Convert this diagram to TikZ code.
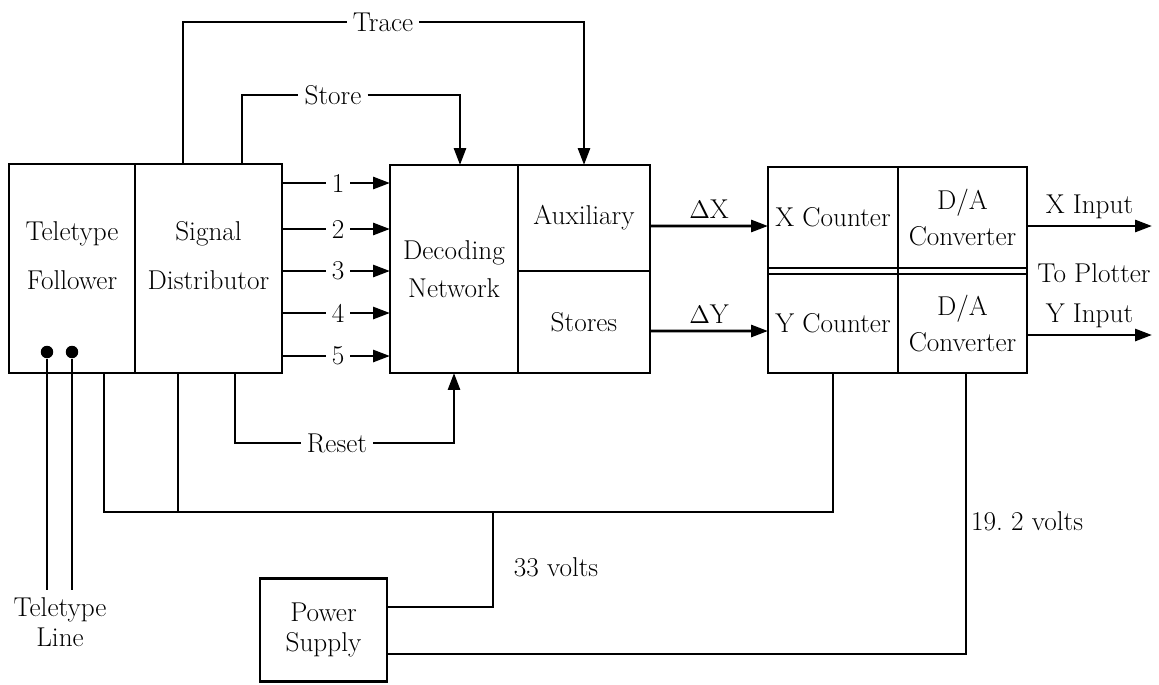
\documentclass[tikz,border=0pt]{standalone}
\usepackage{amsmath}
\usepackage{tikz}
\usetikzlibrary{arrows.meta, positioning}

\begin{document}
\begin{tikzpicture}[x=0.02cm, y=-0.02cm,
            every node/.style={font=\fontsize{15.5}{19}\selectfont},
            block/.style={draw, rectangle, line width=1.6pt, inner sep=0pt, outer sep=0pt, align=center},
            wire/.style={line width=1.6pt},
            arrow/.style={line width=1.6pt, -{Triangle[length=0.34cm, width=0.24cm]}},
            dot/.style={circle, fill=black, inner sep=0pt, minimum size=0.25cm}]
            \useasboundingbox (0,0) rectangle (1159,684);

            % Nodes
            \node (follower) [block, minimum width=2.52cm, minimum height=4.18cm] at (72,268.5) {};
            \node (dist) [block, minimum width=2.94cm, minimum height=4.18cm] at (208.5,268.5) {};
            \node (followertext) [align=center] at ([yshift=0.26cm]follower.center) {Teletype\\[9pt]Follower};
            \node (disttext) [align=center] at ([yshift=0.26cm]dist.center) {Signal\\[9pt]Distributor};
            \node (dec) [block, minimum width=2.56cm, minimum height=4.16cm] at (454,269) {Decoding\\[3pt]Network};
            \node (aux) [block, minimum width=2.64cm, minimum height=2.12cm] at (584,218) {Auxiliary};
            \node (stores) [block, minimum width=2.64cm, minimum height=2.04cm] at (584,322) {Stores};
            \node (xcnt) [block, minimum width=2.6cm, minimum height=2.02cm] at (833,217.5) {X Counter};
            \node (xda) [block, minimum width=2.58cm, minimum height=2.02cm] at (962.5,217.5) {D/A\\[1pt]Converter};
            \node (ycnt) [block, minimum width=2.6cm, minimum height=1.98cm] at (833,323.5) {Y Counter};
            \node (yda) [block, minimum width=2.58cm, minimum height=1.98cm] at (962.5,323.5) {D/A\\[1pt]Converter};
            \node (power) [block, minimum width=2.54cm, minimum height=2.06cm] at (323.5,630) {Power\\[-2pt]Supply};
            \node (plotter) at (1094,273) {To Plotter};
            \node (ttline) [align=center] at (60,622) {Teletype\\[-2pt]Line};
            \node (dota) [dot] at (47,352) {};
            \node (dotb) [dot] at (72,352) {};
            \node (trace) at (383,22) {Trace};
            \node (store) at (333,95) {Store};
            \node (reset) at (337,443) {Reset};
            \node (v33) at (556,567) {33 volts};
            \node (v19) at (1027,521) {19.\ 2 volts};

            \coordinate (leada) at (47,590);
            \coordinate (leadb) at (72,590);
            \coordinate (tracel) at (183,22);
            \coordinate (storel) at (242,95);
            \coordinate (resetl) at (235,443);
            \coordinate (busw) at (104,512);
            \coordinate (tap1) at (178,512);
            \coordinate (tap2) at (493,512);
            \coordinate (buse) at (833,512);
            \coordinate (pin33) at (387,607);
            \coordinate (pin19) at (387,654);
            \coordinate (tap3) at (966,654);
            \coordinate (xout) at (1152,226);
            \coordinate (yout) at (1152,335);

            % Arrows
            \foreach \i/\y in {1/183, 2/229, 3/271, 4/313, 5/356} {
                \node (sig\i) at (338,\y) {\i};
                \draw [wire] (dist.east |- sig\i) -- (sig\i);
                \draw [arrow] (sig\i) -- (dec.west |- sig\i);
            }
            \draw [wire] (dist.north -| tracel) -- (tracel) -- (trace);
            \draw [arrow] (trace) -| (aux.north);
            \draw [wire] (dist.north -| storel) -- (storel) -- (store);
            \draw [arrow] (store) -| ([xshift=0.12cm]dec.north);
            \draw [wire] (dist.south -| resetl) -- (resetl) -- (reset);
            \draw [arrow] (reset) -| (dec.south);
            \draw [arrow] ([yshift=-0.16cm]aux.east) -- node[above] {$\Delta$X} ([yshift=-0.17cm]xcnt.west);
            \draw [arrow] ([yshift=-0.18cm]stores.east) -- node[above] {$\Delta$Y} ([yshift=-0.15cm]ycnt.west);
            \draw [arrow] (xda.east |- xout) -- node[above] {X Input} (xout);
            \draw [arrow] (yda.east |- yout) -- node[above] {Y Input} (yout);
            \draw [wire] (xcnt.south west) -- (ycnt.north west);
            \draw [wire] (xcnt.south east) -- (ycnt.north east);
            \draw [wire] (xda.south east) -- (yda.north east);

            % Teletype line and power
            \draw [wire] (dota) -- (leada);
            \draw [wire] (dotb) -- (leadb);
            \draw [wire] (follower.south -| busw) -- (busw) -- (buse) -- (ycnt.south -| buse);
            \draw [wire] (dist.south -| tap1) -- (tap1);
            \draw [wire] (tap2) |- (pin33);
            \draw [wire] (yda.south -| tap3) -- (tap3) -- (pin19);
        \end{tikzpicture}
\end{document}
